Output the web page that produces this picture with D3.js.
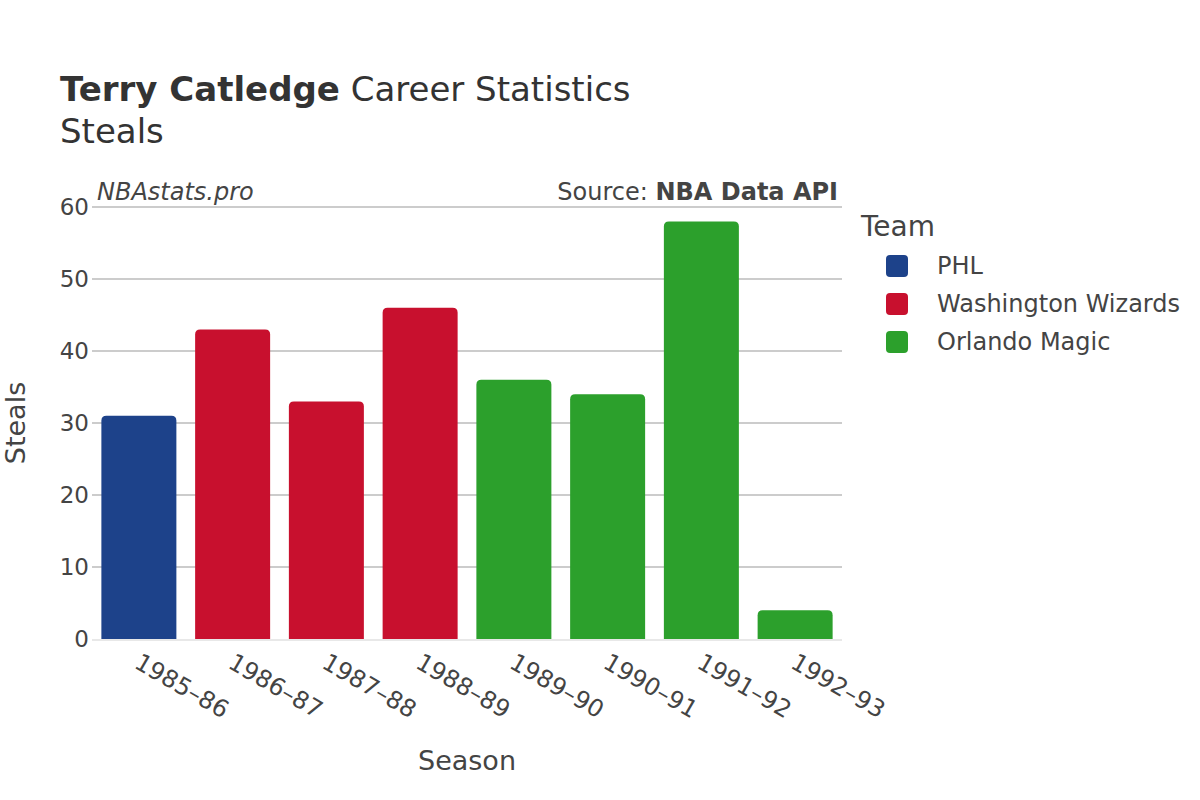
<!DOCTYPE html>
<html>
<head>
<meta charset="utf-8">
<script src="https://cdn.jsdelivr.net/npm/d3@7"></script>
<style>
  body { margin: 0; background: #fff; }
  svg { font-family: "DejaVu Sans", sans-serif; }
</style>
</head>
<body>
<svg id="chart" width="1200" height="800"></svg>
<script>
// data
const seasons = ["1985–86", "1986–87", "1987–88", "1988–89", "1989–90", "1990–91", "1991–92", "1992–93"];
const teams = ["PHL", "Washington Wizards", "Washington Wizards", "Washington Wizards", "Orlando Magic", "Orlando Magic", "Orlando Magic", "Orlando Magic"];
const steals = [31, 43, 33, 46, 36, 34, 58, 4];
const legendTeams = ["PHL", "Washington Wizards", "Orlando Magic"];
const teamColors = ["#1d428a", "#c8102e", "#2ca02c"];
const yTicks = [0, 10, 20, 30, 40, 50, 60];

const rows = seasons.map((s, i) => ({ season: s, team: teams[i], value: steals[i] }));

const width = 1200;
const margin = { top: 207, right: 358, bottom: 161, left: 92 };
const plotW = width - margin.left - margin.right;
const plotH = 800 - margin.top - margin.bottom;

const svg = d3.select("#chart");
const textColor = "#444";

const x = d3.scaleBand().domain(seasons).range([0, plotW]).paddingInner(0.2).paddingOuter(0.1);
const y = d3.scaleLinear().domain([0, 60]).range([plotH, 0]);
const color = d3.scaleOrdinal().domain(legendTeams).range(teamColors);

const g = svg.append("g").attr("transform", `translate(${margin.left},${margin.top})`);

// gridlines
g.append("g")
  .selectAll("line")
  .data(yTicks.filter(d => d > 0))
  .join("line")
  .attr("x1", 0)
  .attr("x2", plotW)
  .attr("y1", d => y(d))
  .attr("y2", d => y(d))
  .attr("stroke", "#999")
  .attr("stroke-width", 1);

// y axis labels
const yAxis = g.append("g").call(d3.axisLeft(y).tickValues(yTicks).tickSize(0).tickPadding(3));
yAxis.select(".domain").remove();
yAxis.selectAll("text")
  .attr("font-size", 23)
  .attr("fill", textColor)
  .attr("font-family", "DejaVu Sans, sans-serif");

// bars with rounded tops
const r = 5;
function barPath(d) {
  const x0 = x(d.season), w = x.bandwidth();
  const y0 = y(d.value), y1 = y(0);
  const rr = Math.min(r, (y1 - y0));
  return `M${x0},${y1} L${x0},${y0 + rr} Q${x0},${y0} ${x0 + rr},${y0}
    L${x0 + w - rr},${y0} Q${x0 + w},${y0} ${x0 + w},${y0 + rr} L${x0 + w},${y1} Z`;
}
g.append("g")
  .selectAll("path")
  .data(rows)
  .join("path")
  .attr("d", barPath)
  .attr("fill", d => color(d.team));

// zero line
g.append("line")
  .attr("x1", 0)
  .attr("x2", plotW)
  .attr("y1", y(0) + 1)
  .attr("y2", y(0) + 1)
  .attr("stroke", "#e8e8e8")
  .attr("stroke-width", 2);

// x axis labels
const xAxis = g.append("g")
  .attr("transform", `translate(0,${plotH})`)
  .call(d3.axisBottom(x).tickSize(0).tickPadding(0));
xAxis.select(".domain").remove();
xAxis.selectAll("text")
  .attr("font-size", 24)
  .attr("fill", textColor)
  .attr("font-family", "DejaVu Sans, sans-serif")
  .attr("text-anchor", "start")
  .attr("dy", null)
  .attr("y", 0)
  .attr("transform", "translate(-6,28) rotate(30)");

// axis titles
svg.append("text")
  .attr("x", margin.left + plotW / 2)
  .attr("y", 770)
  .attr("text-anchor", "middle")
  .attr("font-size", 27)
  .attr("fill", textColor)
  .text("Season");

svg.append("text")
  .attr("transform", `translate(16,${margin.top + plotH / 2}) rotate(-90)`)
  .attr("text-anchor", "middle")
  .attr("dy", "0.35em")
  .attr("font-size", 27)
  .attr("fill", textColor)
  .text("Steals");

// title
const title = svg.append("text").attr("x", 60).attr("y", 101).attr("font-size", 34).attr("fill", "#333");
title.append("tspan").attr("font-weight", "bold").text("Terry Catledge");
title.append("tspan").text(" Career Statistics");
svg.append("text").attr("x", 60).attr("y", 143).attr("font-size", 34).attr("fill", "#333").text("Steals");

// annotations
svg.append("text")
  .attr("x", 97).attr("y", 200)
  .attr("font-size", 24).attr("font-style", "italic").attr("fill", textColor)
  .text("NBAstats.pro");
const src = svg.append("text")
  .attr("x", 838).attr("y", 200)
  .attr("text-anchor", "end")
  .attr("font-size", 24).attr("fill", textColor);
src.append("tspan").text("Source: ");
src.append("tspan").attr("font-weight", "bold").text("NBA Data API");

// legend
const legend = svg.append("g").attr("transform", "translate(861,0)");
legend.append("text").attr("x", 0).attr("y", 236).attr("font-size", 28).attr("fill", textColor).text("Team");
const items = legend.selectAll("g.item")
  .data(legendTeams)
  .join("g")
  .attr("class", "item")
  .attr("transform", (d, i) => `translate(0,${266 + i * 38})`);
items.append("rect")
  .attr("x", 25).attr("y", -11)
  .attr("width", 22).attr("height", 22)
  .attr("rx", 4)
  .attr("fill", d => color(d));
items.append("text")
  .attr("x", 76).attr("y", 0).attr("dy", "0.35em")
  .attr("font-size", 24).attr("fill", textColor)
  .text(d => d);
</script>
</body>
</html>
